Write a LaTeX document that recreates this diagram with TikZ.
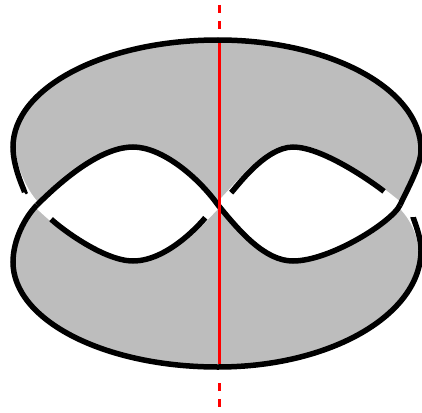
\documentclass[tikz,border=0pt]{standalone}
\usepackage{tikz}

\definecolor{surface}{gray}{0.74}

\begin{document}
\begin{tikzpicture}[x=1pt, y=-1pt,
    strand/.style={line width=5.5pt},
    gapfill/.style={white, line width=5.5pt},
    axis/.style={red, line width=3pt}
]
\useasboundingbox (0,0) rectangle (422,412);

% crossings and turning points
\coordinate (L) at (37,205);
\coordinate (C) at (218,205);
\coordinate (R) at (400,205);
\coordinate (top) at (218,40);
\coordinate (bot) at (218,367);
\coordinate (ul) at (133,147);
\coordinate (ur) at (293,147);
\coordinate (ll) at (133,261);
\coordinate (lr) at (293,261);

% the surface: upper and lower bands
\fill[surface] (R) .. controls (408,188) and (421,165) .. (421,150)
    .. controls (421,89) and (330,40) .. (top)
    .. controls (104,40) and (13,88) .. (13,147)
    .. controls (13,170) and (27,195) .. (L)
    .. controls (70,172) and (105,147) .. (ul)
    .. controls (162,147) and (198,177) .. (C)
    .. controls (236,188) and (265,147) .. (ur)
    .. controls (325,147) and (380,188) .. (R) -- cycle;
\fill[surface] (R) .. controls (412,216) and (421,235) .. (421,250)
    .. controls (421,315) and (330,367) .. (bot)
    .. controls (104,367) and (13,320) .. (13,262)
    .. controls (13,240) and (25,217) .. (L)
    .. controls (58,226) and (103,261) .. (ll)
    .. controls (170,261) and (205,218) .. (C)
    .. controls (240,232) and (265,261) .. (lr)
    .. controls (330,261) and (392,222) .. (R) -- cycle;

% white under the gaps
\draw[gapfill] (13,147) .. controls (13,170) and (27,195) .. (L)
    .. controls (58,226) and (103,261) .. (ll)
    .. controls (170,261) and (205,218) .. (C)
    .. controls (236,188) and (265,147) .. (ur)
    .. controls (325,147) and (380,188) .. (R)
    .. controls (412,216) and (421,235) .. (421,250);

% over strand
\draw[strand] (L) .. controls (70,172) and (105,147) .. (ul)
    .. controls (162,147) and (198,177) .. (C)
    .. controls (240,232) and (265,261) .. (lr)
    .. controls (330,261) and (392,222) .. (R);
\draw[strand, shorten >=18pt] (R) .. controls (408,188) and (421,165) .. (421,150)
    .. controls (421,89) and (330,40) .. (top)
    .. controls (104,40) and (13,88) .. (13,147)
    .. controls (13,170) and (27,195) .. (L);

% under strands
\draw[strand, shorten <=20pt, shorten >=18pt] (L) .. controls (58,226) and (103,261) .. (ll)
    .. controls (170,261) and (205,218) .. (C);
\draw[strand, shorten <=18pt, shorten >=21pt] (C) .. controls (236,188) and (265,147) .. (ur)
    .. controls (325,147) and (380,188) .. (R);
\draw[strand, shorten <=18pt] (R) .. controls (412,216) and (421,235) .. (421,250)
    .. controls (421,315) and (330,367) .. (bot)
    .. controls (104,367) and (13,320) .. (13,262)
    .. controls (13,240) and (25,217) .. (L);

% symmetry axis
\coordinate (axtop) at (219,5);
\coordinate (axbot) at (219,412);
\draw[axis] (219,43) -- (219,364);
\draw[axis, dash pattern=on 8pt off 8pt] (axtop) -- (219,30);
\draw[axis, dash pattern=on 8pt off 8pt] (219,383) -- (axbot);

\end{tikzpicture}
\end{document}
